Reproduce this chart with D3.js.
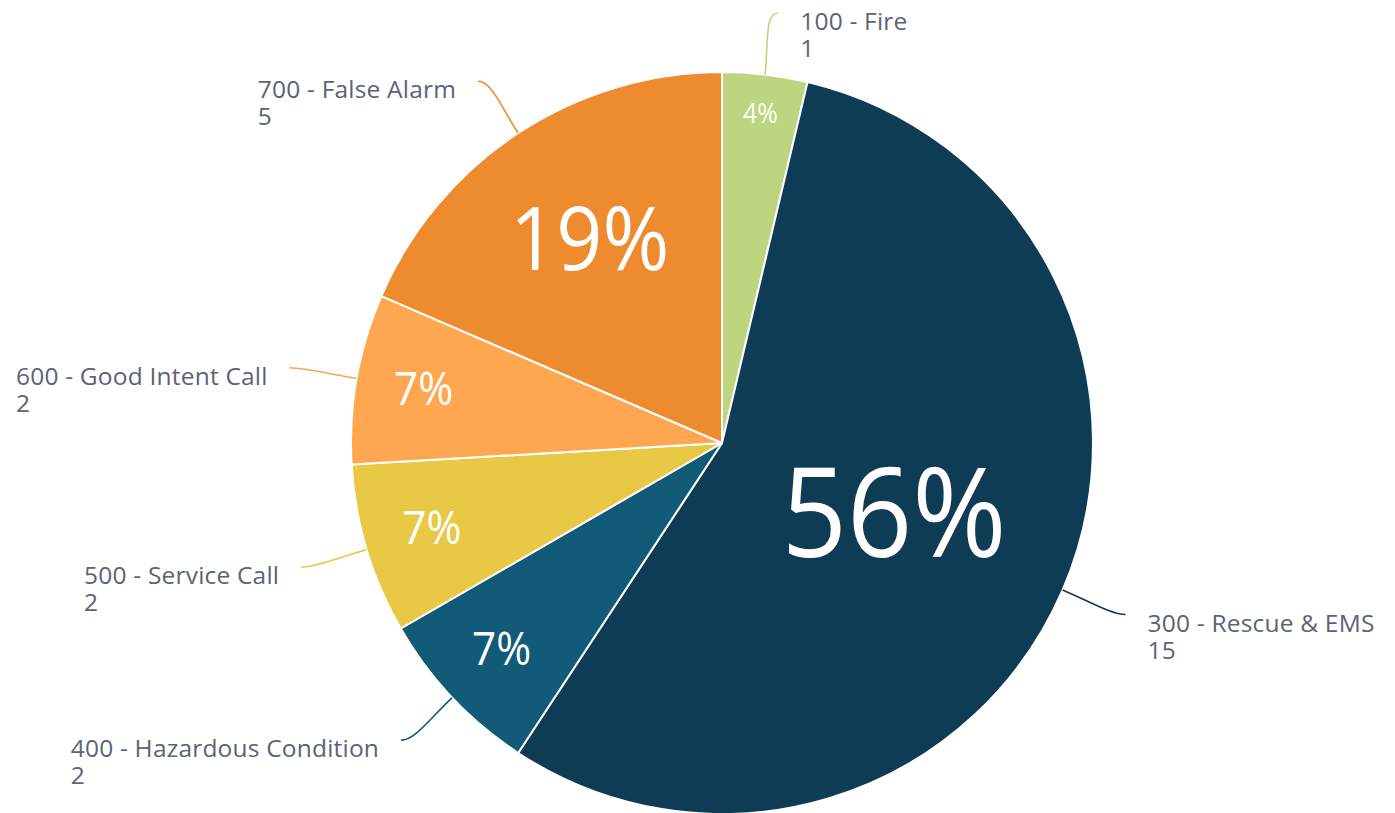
<!DOCTYPE html>
<html>
<head>
<meta charset="utf-8">
<script src="https://cdn.jsdelivr.net/npm/d3@7"></script>
<style>
  html, body { margin: 0; padding: 0; background: #fff; }
  svg.vis { display: block; font-family: "Open Sans", sans-serif; }
</style>
</head>
<body>
<svg class="vis" width="1395" height="813"></svg>
<script>

// data, clockwise from 12 o'clock
const categories = ["100 - Fire", "300 - Rescue & EMS", "400 - Hazardous Condition",
                    "500 - Service Call", "600 - Good Intent Call", "700 - False Alarm"];
const counts = [1, 15, 2, 2, 2, 5];

// styling
const colors = ["#bdd57e", "#0f3c55", "#125b78", "#e8c845", "#fea750", "#ef8b2f"];
const pctSizes = [27, 124, 46, 46, 46, 88];

const vis = {

    dims: { w: 1395, h: 813, cx: 722, cy: 443, r: 371 },

    draw: function() {

        const svg = d3.select("svg.vis");
        const d = vis.dims;
        const total = d3.sum(counts);

        const rows = categories.map((c, i) => ({ name: c, value: counts[i], i: i }));

        const pie = d3.pie()
            .sort(null)
            .value(e => e.value);

        const arcs = pie(rows);

        const arc = d3.arc()
            .innerRadius(0)
            .outerRadius(d.r);

        const g = svg.append("g")
            .attr("transform", `translate(${d.cx},${d.cy})`);

        g.append("g")
            .selectAll("path")
            .data(arcs)
            .join("path")
            .attr("d", arc)
            .attr("fill", e => colors[e.data.i])
            .attr("stroke", "#fff")
            .attr("stroke-width", 2)
            .attr("stroke-linejoin", "round");

        // point at radius rad on the middle angle of a slice
        const radial = (e, rad) => {
            const a = (e.startAngle + e.endAngle) / 2;
            return [rad * Math.sin(a), -rad * Math.cos(a)];
        };

        // percentages inside the slices (slightly condensed like the original face)
        g.append("g")
            .selectAll("text")
            .data(arcs)
            .join("text")
            .each(function(e) {
                const fs = pctSizes[e.data.i];
                const p = radial(e, d.r - 1.48 * fs);
                d3.select(this)
                    .attr("transform", `translate(${p[0]},${p[1] + 0.357 * fs - fs * 0.04}) scale(0.92,1)`)
                    .attr("font-size", fs)
                    .attr("text-anchor", "middle")
                    .attr("fill", "#fff")
                    .text(d3.format(".0%")(e.data.value / total));
            });

        // leader lines and category labels
        const lab = g.append("g");

        arcs.forEach(e => {
            const a = (e.startAngle + e.endAngle) / 2;
            const side = Math.sin(a) >= 0 ? 1 : -1;
            const p0 = radial(e, d.r);
            const c1 = radial(e, d.r + 30);
            const p3 = radial(e, d.r + 62);
            p3[0] += side * 6;
            const c2 = [p3[0] - side * 14, p3[1]];

            const path = d3.path();
            path.moveTo(p0[0], p0[1]);
            path.bezierCurveTo(c1[0], c1[1], c2[0], c2[1], p3[0], p3[1]);

            lab.append("path")
                .attr("d", path.toString())
                .attr("fill", "none")
                .attr("stroke", colors[e.data.i])
                .attr("stroke-width", 1.6);

            const t = lab.append("text")
                .attr("font-size", 24.5)
                .attr("letter-spacing", 0.2)
                .attr("fill", "#5b6475");

            t.append("tspan").attr("x", 0).attr("y", p3[1] + 17).text(e.data.name);
            t.append("tspan").attr("x", 0).attr("y", p3[1] + 44).text(e.data.value);

            const w = t.node().getBBox().width;
            const x = side > 0 ? p3[0] + 22 : p3[0] - 22 - w;
            t.selectAll("tspan").attr("x", x);
        });
    }
};

vis.draw();
</script>
</body>
</html>
